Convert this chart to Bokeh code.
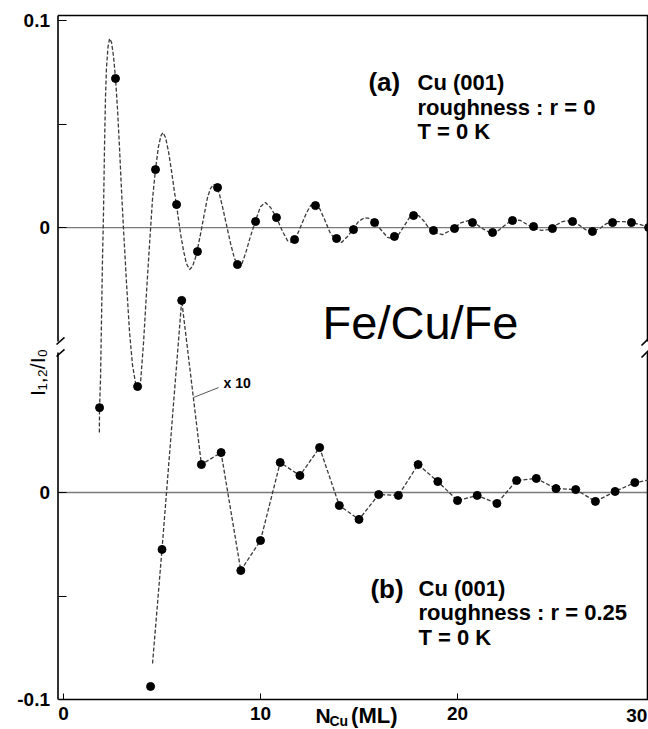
import math
from bokeh.plotting import figure
from bokeh.models import Range1d, FixedTicker, Label
from bokeh.embed import file_html
from bokeh.resources import INLINE

# ---------------- data ----------------
# panel (a): r = 0, dashed smooth curve
a_curve_n = [1.82, 1.83, 1.88, 1.93, 1.98, 2.03, 2.08, 2.13, 2.18, 2.26, 2.34, 2.44, 2.54, 2.64,
             2.74, 2.84, 2.94, 3.05, 3.20, 3.35, 3.50, 3.66, 3.78, 3.91, 4.06, 4.21, 4.37, 4.52,
             4.67, 4.82, 4.95, 5.05, 5.18, 5.33, 5.48, 5.63, 5.79, 5.94, 6.09, 6.24, 6.40, 6.55,
             6.70, 6.85, 7.01, 7.16, 7.31, 7.46, 7.61, 7.77, 7.92, 8.07, 8.27, 8.48, 8.68, 8.88,
             9.04, 9.24, 9.49, 9.75, 10.00, 10.25, 10.51, 10.81, 11.12, 11.37, 11.57, 11.83, 12.08,
             12.34, 12.54, 12.74, 13.00, 13.25, 13.55, 13.86, 14.11, 14.42, 14.72, 14.97, 15.28,
             15.58, 15.89, 16.19, 16.45, 16.70, 17.01, 17.31, 17.56, 17.77, 18.02, 18.27, 18.53,
             18.83, 19.24, 19.54, 19.85, 20.20, 20.56, 20.91, 21.27, 21.73, 22.08, 22.44, 22.84,
             23.20, 23.55, 23.91, 24.26, 24.62, 24.97, 25.33, 25.74, 26.14, 26.50, 26.85, 27.21,
             27.56, 27.97, 28.43, 28.83, 29.29, 29.80]
a_curve_val = [-0.0990, -0.0870, -0.0729, -0.0440, -0.0150, 0.0068, 0.0382, 0.0623, 0.0768, 0.0874,
               0.0913, 0.0894, 0.0826, 0.0720, 0.0575, 0.0391, 0.0188, -0.0014, -0.0271, -0.0502,
               -0.0662, -0.0754, -0.0783, -0.0749, -0.0560, -0.0319, -0.0077, 0.0140, 0.0280, 0.0391,
               0.0444, 0.0459, 0.0435, 0.0367, 0.0275, 0.0174, 0.0072, -0.0029, -0.0111, -0.0174,
               -0.0203, -0.0188, -0.0145, -0.0082, -0.0005, 0.0072, 0.0145, 0.0188, 0.0208, 0.0198,
               0.0159, 0.0101, 0.0014, -0.0077, -0.0150, -0.0184, -0.0179, -0.0126, -0.0043, 0.0034,
               0.0101, 0.0121, 0.0097, 0.0048, -0.0019, -0.0063, -0.0072, -0.0043, 0.0014, 0.0072,
               0.0106, 0.0116, 0.0092, 0.0039, -0.0029, -0.0063, -0.0072, -0.0043, -0.0005, 0.0029,
               0.0048, 0.0043, 0.0014, -0.0019, -0.0048, -0.0053, -0.0034, 0.0010, 0.0048, 0.0063,
               0.0058, 0.0034, 0.0000, -0.0024, -0.0034, -0.0019, 0.0000, 0.0024, 0.0034, 0.0019,
               -0.0005, -0.0029, -0.0014, 0.0014, 0.0039, 0.0034, 0.0014, -0.0005, -0.0014, -0.0010,
               0.0010, 0.0029, 0.0034, 0.0014, -0.0010, -0.0019, -0.0005, 0.0019, 0.0029, 0.0029,
               0.0024, 0.0014, 0.0000]
# panel (a): dots
a_pts_n = [1.83, 2.64, 3.76, 4.67, 5.74, 6.80, 7.82, 8.83, 9.75, 10.81, 11.73, 12.79, 13.86, 14.72,
           15.79, 16.80, 17.77, 18.78, 19.85, 20.76, 21.78, 22.79, 23.86, 24.82, 25.84, 26.85,
           27.87, 28.83, 29.70]
a_pts_val = [-0.0870, 0.0720, -0.0768, 0.0280, 0.0111, -0.0116, 0.0193, -0.0179, 0.0029, 0.0048,
             -0.0058, 0.0106, -0.0053, -0.0010, 0.0024, -0.0043, 0.0058, -0.0014, -0.0005, 0.0024,
             -0.0024, 0.0034, 0.0005, -0.0005, 0.0029, -0.0019, 0.0024, 0.0024, 0.0000]

# panel (b): r = 0.25 (x 10), dashed polyline + dots
b_line_n = [4.52, 5, 6, 7, 8, 9, 10, 11, 12, 13, 14, 15, 16, 17, 18, 19, 20, 21, 22, 23, 24, 25,
            26, 27, 28, 29, 30]
b_line_val = [-0.0826, -0.0275, 0.0928, 0.0135, 0.0193, -0.0377, -0.0232, 0.0145, 0.0082, 0.0217,
              -0.0063, -0.0130, -0.0010, -0.0014, 0.0135, 0.0053, -0.0039, -0.0014, -0.0053,
              0.0058, 0.0068, 0.0019, 0.0014, -0.0043, 0.0005, 0.0048, 0.0065]
b_pts_n = [4.42, 5, 6, 7, 8, 9, 10, 11, 12, 13, 14, 15, 16, 17, 18, 19, 20, 21, 22, 23, 24, 25,
           26, 27, 28, 29, 30]
b_pts_val = [-0.0937, -0.0275, 0.0928, 0.0135, 0.0193, -0.0377, -0.0232, 0.0145, 0.0082, 0.0217,
             -0.0063, -0.0130, -0.0010, -0.0014, 0.0135, 0.0053, -0.0039, -0.0014, -0.0053,
             0.0058, 0.0068, 0.0019, 0.0014, -0.0043, 0.0005, 0.0048, 0.0065]

x_ticks = [0, 10, 20]
y_tick_labels_a = ["0", "", "0.1"]      # panel (a) ticks at 0, 0.05, 0.1
y_tick_labels_b = ["-0.1", "", "0"]     # panel (b) ticks at -0.1, -0.05, 0

# ---------------- layout constants ----------------
OFFSET_A = 0.128          # vertical offset of panel (a) in the shared broken axis
X_START, X_END = -3.198, 29.695
Y_START, Y_END = -0.11449, 0.23768
FONT = "Liberation Sans"

p = figure(width=648, height=729, x_range=Range1d(X_START, X_END),
           y_range=Range1d(Y_START, Y_END), output_backend="svg", toolbar_location=None,
           min_border_left=0, min_border_right=0, min_border_top=0, min_border_bottom=0)
p.outline_line_color = None
p.grid.visible = False
p.background_fill_color = "white"
p.border_fill_color = "white"

LX, RX, TY, BY = -0.279, 29.645, 0.2304, -0.1   # frame-box lines

# x axis, drawn inside the canvas at the bottom of the box
xa = p.xaxis[0]
xa.fixed_location = BY
xa.bounds = (LX, X_END)
xa.ticker = FixedTicker(ticks=x_ticks)
xa.axis_line_color = "black"
xa.axis_line_width = 1.6
xa.major_tick_in = 6
xa.major_tick_out = 0
xa.major_tick_line_color = "black"
xa.minor_tick_line_color = None
xa.major_label_text_font = FONT
xa.major_label_text_font_style = "bold"
xa.major_label_text_font_size = "19px"
xa.major_label_text_color = "black"
xa.major_label_standoff = 7

# y axis (broken: two panels)
ya = p.yaxis[0]
ya.fixed_location = LX
ya.bounds = (BY, TY)
b_ticks = [-0.1, -0.05, 0.0]
a_ticks = [0.128, 0.178, 0.228]
ya.ticker = FixedTicker(ticks=b_ticks + a_ticks)
overrides = {}
for t, lab in zip(b_ticks, y_tick_labels_b):
    overrides[t] = lab
for t, lab in zip(a_ticks, y_tick_labels_a):
    overrides[t] = lab
ya.major_label_overrides = overrides
ya.axis_line_color = None
ya.major_tick_in = 8
ya.major_tick_out = 0
ya.major_tick_line_color = "black"
ya.minor_tick_line_color = None
ya.major_label_text_font = FONT
ya.major_label_text_font_style = "bold"
ya.major_label_text_font_size = "19px"
ya.major_label_text_color = "black"
ya.major_label_standoff = 8

# zero lines of both panels
p.segment(x0=[LX, LX], y0=[0.0, OFFSET_A], x1=[X_END, X_END], y1=[0.0, OFFSET_A],
          line_color="#7a7a7a", line_width=1.3)

# box lines with axis breaks (decoration)
GAP_LO, GAP_HI = 0.0676, 0.0729
p.segment(x0=[LX, LX, RX, RX, LX, -0.355, -0.355, 29.34, 29.34],
          y0=[TY, GAP_LO, TY, GAP_LO, TY, 0.0715, 0.0657, 0.0710, 0.0652],
          x1=[LX, LX, RX, RX, X_END, 0.051, 0.051, 29.695, 29.695],
          y1=[GAP_HI, BY, GAP_HI, BY, TY, 0.0749, 0.0691, 0.0744, 0.0686],
          line_color="black", line_width=1.6)

# curves
p.line(a_curve_n, [v + OFFSET_A for v in a_curve_val], line_color="#3a3a3a",
       line_width=1.3, line_dash="4 2")
p.scatter(a_pts_n, [v + OFFSET_A for v in a_pts_val], size=8, color="black")
p.line(b_line_n, b_line_val, line_color="#3a3a3a", line_width=1.3, line_dash="4 2")
p.scatter(b_pts_n, b_pts_val, size=8, color="black")

# "x 10" leader
p.segment(x0=[6.60], y0=[0.0459], x1=[7.87], y1=[0.0507], line_color="#555555", line_width=1)


def lab(x, y, text, size, bold=True, align="left", baseline="middle", angle=0.0, font=FONT):
    p.add_layout(Label(x=x, y=y, text=text, text_font=font, text_font_size=size,
                       text_font_style="bold" if bold else "normal", text_align=align,
                       text_baseline=baseline, angle=angle, text_color="black"))


# panel annotations
lab(15.48, 0.1981, "(a)", "26px")
lab(17.97, 0.1981, "Cu (001)", "22px")
lab(17.97, 0.1860, "roughness : r = 0", "22px")
lab(17.97, 0.1744, "T = 0 K", "22px")

lab(15.58, -0.0464, "(b)", "26px")
lab(18.02, -0.0464, "Cu (001)", "22px")
lab(18.02, -0.0580, "roughness : r = 0.25", "22px")
lab(18.02, -0.0700, "T = 0 K", "22px")

lab(8.12, 0.0531, "x 10", "14px")
lab(13.15, 0.0821, "Fe/Cu/Fe", "47px", bold=False)

# axis titles
lab(12.79, -0.1077, "N", "21px")
lab(13.50, -0.1103, "Cu", "14px")
lab(14.60, -0.1077, "(ML)", "22px")
lab(29.64, -0.1077, "30", "19px", align="right")
lab(-1.32, 0.0580, "I\u2081,\u2082/I\u2080", "21px", bold=False, align="center",
    angle=math.pi / 2)

open("out.html", "w").write(file_html(p, INLINE))
